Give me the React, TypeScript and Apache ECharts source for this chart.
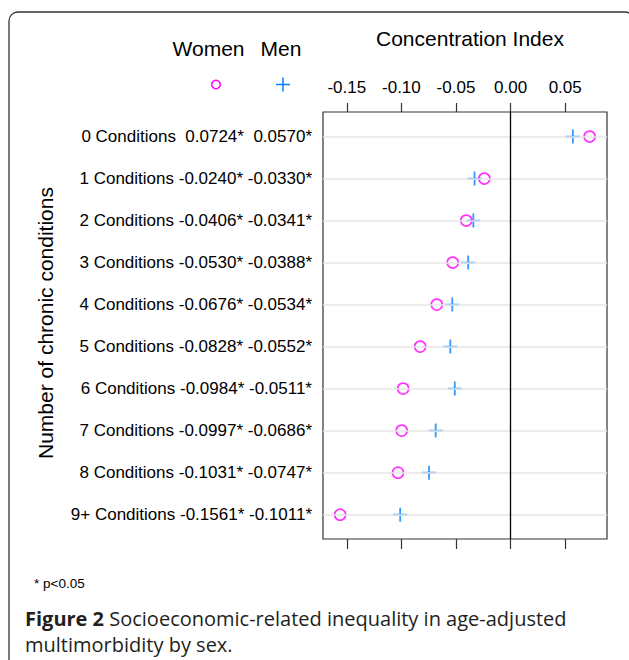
import React, { useEffect, useRef } from "react";
import * as echarts from "echarts";

const categories = [
  "0 Conditions",
  "1 Conditions",
  "2 Conditions",
  "3 Conditions",
  "4 Conditions",
  "5 Conditions",
  "6 Conditions",
  "7 Conditions",
  "8 Conditions",
  "9+ Conditions",
];
const women = [0.0724, -0.024, -0.0406, -0.053, -0.0676, -0.0828, -0.0984, -0.0997, -0.1031, -0.1561];
const men = [0.057, -0.033, -0.0341, -0.0388, -0.0534, -0.0552, -0.0511, -0.0686, -0.0747, -0.1011];
const xTicks = [-0.15, -0.1, -0.05, 0.0, 0.05];

const fmt = (v: number) => (v >= 0 ? " " : "") + v.toFixed(4) + "*";

const FONT = "'Liberation Sans', Arial, Helvetica, sans-serif";
const CAPTION_FONT = "'Open Sans', 'Noto Sans', sans-serif";

export default function App() {
  const ref = useRef<HTMLDivElement>(null);
  useEffect(() => {
    document.body.style.margin = "0";
    if (!ref.current) return;
    const chart = echarts.init(ref.current, null, { renderer: "svg" });
    const rows = categories.map((_, i) => i);
    const option: any = {
      animation: false,
      backgroundColor: "#ffffff",
      textStyle: { fontFamily: FONT },
      grid: {
        left: 323,
        right: 22,
        top: 112,
        bottom: 121,
        show: true,
        borderColor: "#333333",
        borderWidth: 1.2,
        backgroundColor: "transparent",
      },
      xAxis: [
        {
          type: "value",
          position: "top",
          min: -0.1718,
          max: 0.0883,
          axisLine: { show: false, onZero: false },
          splitLine: { show: false },
          axisTick: {
            show: true,
            customValues: xTicks,
            length: 9,
            lineStyle: { color: "#333333", width: 1.2 },
          },
          axisLabel: {
            customValues: xTicks,
            formatter: (v: number) => v.toFixed(2),
            fontSize: 17,
            color: "#000000",
            fontFamily: FONT,
            margin: 16,
          },
        },
        {
          type: "value",
          position: "bottom",
          min: -0.1718,
          max: 0.0883,
          axisLine: { show: false, onZero: false },
          splitLine: { show: false },
          axisTick: {
            show: true,
            customValues: xTicks,
            length: 10,
            lineStyle: { color: "#333333", width: 1.2 },
          },
          axisLabel: { show: false },
        },
      ],
      yAxis: {
        type: "value",
        inverse: true,
        min: -0.585,
        max: 9.58,
        axisLine: { show: false, onZero: false },
        axisTick: { show: false },
        splitLine: { show: false },
        axisLabel: {
          customValues: rows,
          formatter: (v: number) => {
            const i = Math.round(v);
            return `${categories[i]} ${fmt(women[i])} ${fmt(men[i])}`;
          },
          fontSize: 17,
          color: "#000000",
          fontFamily: FONT,
          margin: 11,
        },
      },
      series: [
        {
          type: "scatter",
          name: "lines",
          data: [],
          z: 1,
          silent: true,
          markLine: {
            silent: true,
            symbol: ["none", "none"],
            label: { show: false },
            animation: false,
            data: [
              ...rows.map((i) => ({
                yAxis: i,
                lineStyle: { color: "#e6e6e6", width: 1.5, type: "solid" },
              })),
              { xAxis: 0, lineStyle: { color: "#000000", width: 1.3, type: "solid" } },
            ],
          },
        },
        {
          type: "scatter",
          name: "Men",
          data: men.map((v, i) => [v, i]),
          symbol: "path://M7,0 L7,14 M0,7 L14,7",
          symbolSize: 14,
          itemStyle: { color: "none", borderColor: "#0080ff", borderWidth: 1.8 },
          z: 3,
        },
        {
          type: "scatter",
          name: "Women",
          data: women.map((v, i) => [v, i]),
          symbol: "circle",
          symbolSize: 11,
          itemStyle: { color: "none", borderColor: "#ff00ff", borderWidth: 1.7 },
          z: 4,
        },
      ],
      graphic: [
        {
          type: "rect",
          shape: { x: 9, y: 12, width: 625, height: 700, r: 9 },
          style: { fill: "none", stroke: "#333333", lineWidth: 1.3 },
          z: -1,
        },
        {
          type: "text",
          x: 470,
          y: 38,
          style: {
            text: "Concentration Index",
            fontSize: 21,
            fontFamily: FONT,
            fill: "#000000",
            align: "center",
            verticalAlign: "middle",
          },
        },
        {
          type: "text",
          x: 208.5,
          y: 48,
          style: {
            text: "Women",
            fontSize: 21,
            fontFamily: FONT,
            fill: "#000000",
            align: "center",
            verticalAlign: "middle",
          },
        },
        {
          type: "text",
          x: 281,
          y: 48,
          style: {
            text: "Men",
            fontSize: 21,
            fontFamily: FONT,
            fill: "#000000",
            align: "center",
            verticalAlign: "middle",
          },
        },
        {
          type: "circle",
          shape: { cx: 216, cy: 84.5, r: 4.3 },
          style: { fill: "none", stroke: "#ff00ff", lineWidth: 1.5 },
        },
        {
          type: "line",
          shape: { x1: 276, y1: 84.5, x2: 290, y2: 84.5 },
          style: { stroke: "#0080ff", lineWidth: 1.5 },
        },
        {
          type: "line",
          shape: { x1: 283, y1: 77.5, x2: 283, y2: 91.5 },
          style: { stroke: "#0080ff", lineWidth: 1.5 },
        },
        {
          type: "text",
          x: 45,
          y: 323,
          rotation: Math.PI / 2,
          style: {
            text: "Number of chronic conditions",
            fontSize: 21,
            fontFamily: FONT,
            fill: "#000000",
            align: "center",
            verticalAlign: "middle",
          },
        },
        {
          type: "text",
          x: 34,
          y: 583,
          style: {
            text: "* p<0.05",
            fontSize: 13.5,
            fontFamily: FONT,
            fill: "#000000",
            align: "left",
            verticalAlign: "middle",
          },
        },
        {
          type: "text",
          x: 25,
          y: 618,
          style: {
            text: "{b|Figure 2} Socioeconomic-related inequality in age-adjusted",
            fontSize: 20,
            fontFamily: CAPTION_FONT,
            fill: "#231f20",
            align: "left",
            verticalAlign: "middle",
            rich: {
              b: { fontSize: 20, fontWeight: "bold", fontFamily: CAPTION_FONT, fill: "#231f20" },
            },
          },
        },
        {
          type: "text",
          x: 25,
          y: 644,
          style: {
            text: "multimorbidity by sex.",
            fontSize: 20,
            fontFamily: CAPTION_FONT,
            fill: "#231f20",
            align: "left",
            verticalAlign: "middle",
          },
        },
      ],
    };
    chart.setOption(option);
    return () => chart.dispose();
  }, []);
  return <div ref={ref} style={{ width: 629, height: 660 }} />;
}
